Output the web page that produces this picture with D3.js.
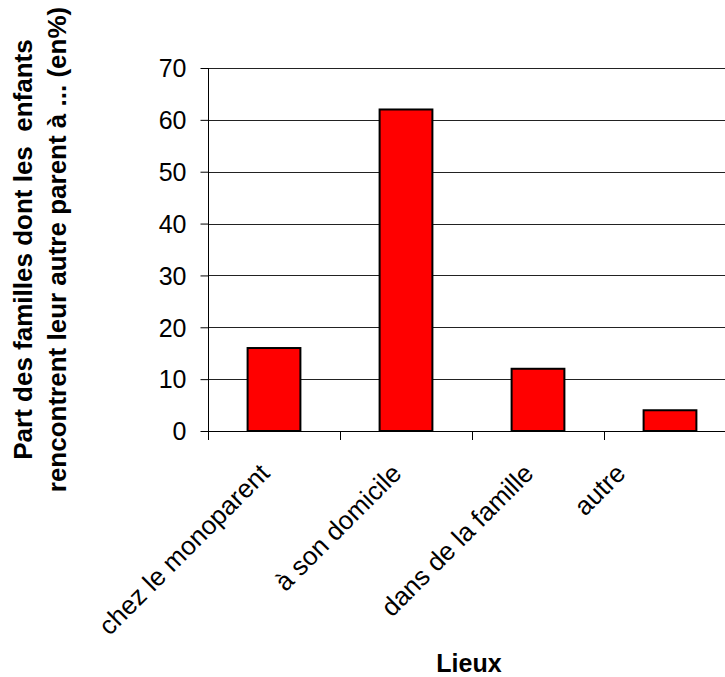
<!DOCTYPE html>
<html>
<head>
<meta charset="utf-8">
<script src="https://cdn.jsdelivr.net/npm/d3@7"></script>
<style>
  html, body { margin: 0; padding: 0; background: #fff; }
  svg text { font-family: "Liberation Sans", Arial, sans-serif; fill: #000; }
</style>
</head>
<body>
<script>
const categories = ["chez le monoparent", "à son domicile", "dans de la famille", "autre"];
const values = [16, 62, 12, 4];
const yTicks = [0, 10, 20, 30, 40, 50, 60, 70];
const yTitleLines = ["Part des familles dont les  enfants", "rencontrent leur autre parent à ... (en%)"];
const xTitle = "Lieux";

const W = 725, H = 677;
const plot = { left: 208, right: 736, top: 68, bottom: 431 };

const svg = d3.select("body").append("svg")
  .attr("width", W).attr("height", H);

const x = d3.scaleBand().domain(categories)
  .range([plot.left, plot.right]).paddingInner(0.6).paddingOuter(0.3);
const xb = d3.scaleBand().domain(categories).range([plot.left, plot.right]);
const y = d3.scaleLinear().domain([0, 70]).range([plot.bottom, plot.top]);

// gridlines
svg.append("g").selectAll("line").data(yTicks.filter(d => d > 0)).join("line")
  .attr("x1", plot.left).attr("x2", plot.right)
  .attr("y1", d => Math.round(y(d)) + 0.5).attr("y2", d => Math.round(y(d)) + 0.5)
  .attr("stroke", "#222").attr("stroke-width", 1);

// bars
svg.append("g").selectAll("rect").data(values).join("rect")
  .attr("x", (d, i) => x(categories[i]))
  .attr("width", x.bandwidth())
  .attr("y", d => y(d))
  .attr("height", d => y(0) - y(d))
  .attr("fill", "#ff0000")
  .attr("stroke", "#000").attr("stroke-width", 2);

// y axis
const yAxis = d3.axisLeft(y).tickValues(yTicks).tickSize(8).tickPadding(14);
const gy = svg.append("g").attr("transform", `translate(${plot.left + 0.5},0)`).call(yAxis);
gy.select(".domain").attr("stroke", "#000").attr("d", `M0,${plot.top}V${plot.bottom}`);
gy.selectAll(".tick line").attr("stroke", "#000");
gy.selectAll(".tick text").style("font-size", "25px").attr("dy", "0.35em");

// x axis
const xAxis = d3.axisBottom(xb).tickSize(0).tickFormat("");
const gx = svg.append("g").attr("transform", `translate(0,${plot.bottom + 0.5})`).call(xAxis);
gx.select(".domain").attr("stroke", "#000").attr("d", `M${plot.left},0H${plot.right}`);
// category boundary ticks
const bounds = categories.map(c => xb(c)).concat([plot.right]);
svg.append("g").selectAll("line").data(bounds).join("line")
  .attr("x1", d => Math.round(d) + 0.5).attr("x2", d => Math.round(d) + 0.5)
  .attr("y1", plot.bottom).attr("y2", plot.bottom + 9)
  .attr("stroke", "#000");

// x labels (the last label is pulled back inside the visible area, as in the reference)
svg.append("g").selectAll("text").data(categories).join("text")
  .attr("transform", (d, i) => {
    let cx = xb(d) + xb.bandwidth() / 2 - 3;
    if (i === categories.length - 1) cx -= 40;
    return `translate(${cx},${plot.bottom + 44}) rotate(-45)`;
  })
  .attr("text-anchor", "end")
  .style("font-size", "26px")
  .text(d => d);

// axis titles
svg.append("text")
  .attr("x", (plot.left + plot.right) / 2 - 3).attr("y", 672)
  .attr("text-anchor", "middle")
  .style("font-size", "25px").style("font-weight", "bold")
  .text(xTitle);

const yt = svg.append("text")
  .attr("transform", `translate(32,${(plot.top + plot.bottom) / 2}) rotate(-90)`)
  .attr("text-anchor", "middle")
  .attr("xml:space", "preserve")
  .style("white-space", "pre")
  .style("font-size", "26px").style("font-weight", "bold");
yTitleLines.forEach((l, i) => {
  yt.append("tspan").attr("x", 0).attr("y", i * 34).text(l);
});
</script>
</body>
</html>
